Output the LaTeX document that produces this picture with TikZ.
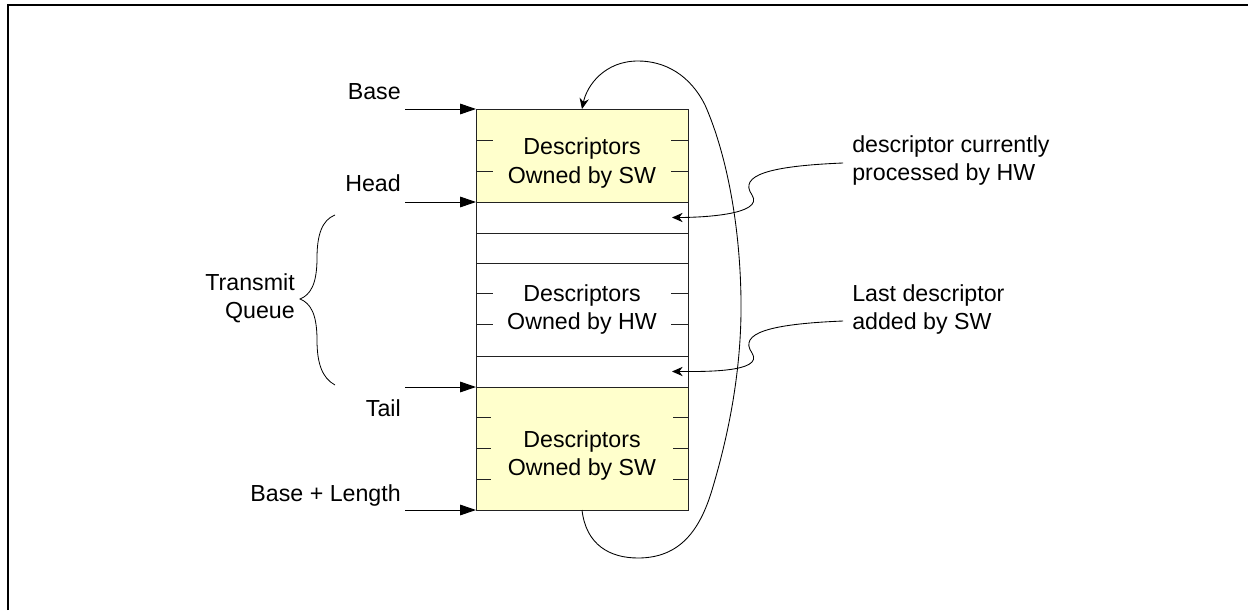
\documentclass[tikz,border=0pt]{standalone}
\usepackage{fontspec}
\setmainfont{Liberation Sans}
\usepackage{tikz}
\usetikzlibrary{arrows.meta, positioning}
\definecolor{swyellow}{HTML}{FFFFCC}
\definecolor{lineblk}{HTML}{222222}

\begin{document}
\begin{tikzpicture}[x=0.75pt, y=-0.75pt,
    every node/.style={font=\fontsize{17.4}{21}\selectfont, inner sep=0pt},
    row/.style={draw=lineblk, line width=0.75pt, minimum width=159pt,
                outer sep=0pt, inner sep=0pt},
    ptr/.style={-{Triangle[length=12pt, width=8pt]}, line width=0.75pt},
    leader/.style={-{Stealth[length=8pt, width=7pt]}, line width=0.65pt},
    tick/.style={line width=0.75pt, draw=lineblk}]
  \useasboundingbox (0,0) rectangle (1248,610);
  %% page frame, only top and left edge show
  \draw[line width=1.5pt] (7.5,610) -- (7.5,5.5) -- (1248,5.5);

  %% descriptor ring, top to bottom
  \node[row, fill=swyellow, minimum height=69.75pt, anchor=north west] (swtop) at (476,109) {};
  \node[row, minimum height=23.25pt, below=0pt of swtop] (cur) {};
  \node[row, minimum height=22.5pt, below=0pt of cur] (free) {};
  \node[row, minimum height=69.75pt, below=0pt of free] (hw) {};
  \node[row, minimum height=23.25pt, below=0pt of hw] (last) {};
  \node[row, fill=swyellow, minimum height=92.25pt, below=0pt of last] (swbot) {};

  %% short ticks on both sides
  \foreach \y in {140,171,293,324} {
    \draw[tick] (476,\y) -- (493,\y);
    \draw[tick] (671,\y) -- (688,\y);
  }
  \foreach \y in {417,448,479} {
    \draw[tick] (476,\y) -- (491,\y);
    \draw[tick] (673,\y) -- (688,\y);
  }

  \node[align=center] (swtopTxt) at (582,163) {Descriptors\\Owned by SW};
  \node[align=center] (hwTxt) at (582,309) {Descriptors\\Owned by HW};
  \node[align=center] (swbotTxt) at (582,455) {Descriptors\\Owned by SW};

  %% pointers on the left
  \node[anchor=base east] (baseLbl) at (401,99) {Base};
  \node[anchor=base east] (headLbl) at (401,191) {Head};
  \node[anchor=base east] (tailLbl) at (401,416) {Tail};
  \node[anchor=base east] (endLbl) at (401,501) {Base + Length};
  \foreach \nm/\y in {base/109, head/202, tail/387, end/510}
    \coordinate (\nm-from) at (405,\y);
  \draw[ptr] (base-from) -- (swtop.north west);
  \draw[ptr] (head-from) -- (cur.north west);
  \draw[ptr] (tail-from) -- (swbot.north west);
  \draw[ptr] (end-from) -- (swbot.south west);

  %% transmit queue brace
  \node[anchor=east, align=right] (txq) at (295,298) {Transmit\\Queue};
  \draw[line width=0.6pt] (335,215) .. controls (322,220) and (317,235) .. (317,258)
      .. controls (317,285) and (310,295) .. (300,299)
      .. controls (310,303) and (317,313) .. (317,340)
      .. controls (317,363) and (322,378) .. (335,385);

  %% notes on the right
  \node[anchor=west, align=left] (curLbl) at (852,161) {descriptor currently\\processed by HW};
  \node[anchor=west, align=left] (lastLbl) at (852,309) {Last descriptor\\added by SW};
  \coordinate (cur-bend) at (752,195);
  \coordinate (last-bend) at (752,353);
  \draw[leader] ([xshift=-6.75pt, yshift=-1.5pt]curLbl.west)
      .. controls +(-73,3) and +(-14,-20) .. (cur-bend)
      .. controls +(13,20) and +(28,0) .. ([xshift=-12pt]cur.east);
  \draw[leader] ([xshift=-6.75pt, yshift=-9pt]lastLbl.west)
      .. controls +(-73,3) and +(-14,-20) .. (last-bend)
      .. controls +(13,20) and +(28,0) .. ([xshift=-12pt]last.east);

  %% wrap-around from the end back to the base
  \draw[leader] (swbot.south) .. controls +(4,35) and (610,558) .. (638,558)
      .. controls (680,558) and (700,530) .. (712,490)
      .. controls (724,450) and (742,380) .. (741,300)
      .. controls (740,220) and (725,150) .. (705,105)
      .. controls (690,75) and (665,61) .. (638,61)
      .. controls (605,61) and (587,85) .. (swtop.north);
\end{tikzpicture}
\end{document}
